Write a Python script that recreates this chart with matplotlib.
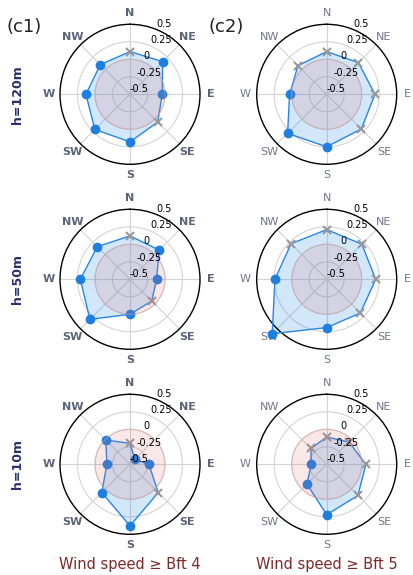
import numpy as np
import matplotlib
matplotlib.use('Agg')
import matplotlib.pyplot as plt
import matplotlib.transforms as mtransforms

# ---------------- data ----------------
directions = ['N', 'NE', 'E', 'SE', 'S', 'SW', 'W', 'NW']
radial_ticks = [-0.5, -0.25, 0, 0.25, 0.5]
radial_labels = ['-0.5', '-0.25', '0', '0.25', '0.5']
heights = ['h=120m', 'h=50m', 'h=10m']
panel_labels = ['(c1)', '(c2)']
titles = ['Wind speed \u2265 Bft 4', 'Wind speed \u2265 Bft 5']

c1_120 = [0.11, 0.16, -0.04, 0.06, 0.18, 0.21, 0.13, 0.10]
c1_120_sig = [0, 1, 1, 0, 1, 1, 1, 1]
c2_120 = [0.11, 0.14, 0.19, 0.20, 0.25, 0.29, 0.03, 0.08]
c2_120_sig = [0, 0, 0, 0, 1, 1, 1, 0]

c1_50 = [0.12, 0.09, -0.12, -0.06, 0.00, 0.31, 0.21, 0.16]
c1_50_sig = [0, 1, 1, 0, 1, 1, 1, 1]
c2_50 = [0.21, 0.21, 0.20, 0.18, 0.19, 0.60, 0.24, 0.22]
c2_50_sig = [0, 0, 0, 0, 1, 1, 1, 0]

c1_10 = [-0.20, -0.40, -0.23, 0.07, 0.38, 0.07, -0.17, -0.01]
c1_10_sig = [0, 1, 1, 0, 1, 1, 1, 1]
c2_10 = [-0.11, -0.05, 0.06, 0.13, 0.22, -0.10, -0.28, -0.18]
c2_10_sig = [0, 0, 0, 0, 1, 1, 1, 0]

grid_values = [[c1_120, c2_120], [c1_50, c2_50], [c1_10, c2_10]]
grid_sig = [[c1_120_sig, c2_120_sig], [c1_50_sig, c2_50_sig], [c1_10_sig, c2_10_sig]]

# ---------------- styling ----------------
W, H = 413, 575
fig = plt.figure(figsize=(W / 100, H / 100), dpi=100)

col_cx = [130, 326.7]
row_cy = [94.3, 279.3, 464.3]
R = 70  # px radius

line_c = '#2a86e4'
dot_c = '#1f7fe0'
fill_c = (0.12, 0.53, 0.90, 0.20)
pink_c = (0.88, 0.40, 0.40, 0.15)
grid_c = '#d4d4d4'
x_c = '#999999'

angles = np.deg2rad(np.arange(0, 360, 45))
theta_circle = np.linspace(0, 2 * np.pi, 361)

for ri in range(3):
    for ci in range(2):
        cx, cy = col_cx[ci], row_cy[ri]
        ax = fig.add_axes([(cx - R) / W, 1 - (cy + R) / H, 2 * R / W, 2 * R / H],
                          projection='polar')
        ax.set_theta_zero_location('N')
        ax.set_theta_direction(-1)
        ax.set_ylim(-0.5, 0.5)
        ax.set_yticks([-0.25, 0, 0.25])
        ax.set_yticklabels([])
        ax.set_xticks(angles)
        if ci == 0:
            ax.set_xticklabels(directions, fontsize=8, fontweight='bold', color='#5c6477')
        else:
            ax.set_xticklabels(directions, fontsize=8, color='#6f7787')
        ax.tick_params(axis='x', pad=-2.5)
        ax.grid(True, color=grid_c, lw=0.8)
        ax.spines['polar'].set_color('black')
        ax.spines['polar'].set_linewidth(1.0)
        ax.set_facecolor('white')

        vals = np.array(grid_values[ri][ci])
        sig = np.array(grid_sig[ri][ci]).astype(bool)
        th = np.append(angles, angles[0])
        rv = np.append(vals, vals[0])
        ax.fill(th, rv, color=fill_c, lw=0, zorder=2, clip_on=False)
        ax.plot(th, rv, color=line_c, lw=1.0, zorder=3, clip_on=False)
        ax.plot(angles[sig], vals[sig], 'o', color=dot_c, ms=6, zorder=4, clip_on=False)
        ax.plot(angles[~sig], vals[~sig], 'x', color=x_c, ms=5.5, mew=1.5, zorder=4, clip_on=False)
        # negative region
        ax.fill(theta_circle, np.zeros_like(theta_circle), facecolor=pink_c,
                edgecolor=(0.85, 0.65, 0.65, 0.6), lw=0.7, zorder=5)

        off = mtransforms.offset_copy(ax.transData, fig=fig, x=0, y=5.5, units='dots')
        for v, lab in zip(radial_ticks, radial_labels):
            ax.text(np.deg2rad(22.5), v, lab, transform=off, ha='left', va='center',
                    fontsize=7, color='black', zorder=6, clip_on=False)

# row labels
for ri in range(3):
    fig.text(18 / W, 1 - row_cy[ri] / H, heights[ri], rotation=90, ha='center', va='center',
             fontsize=9, fontweight='bold', color='#2b2f6b')

# panel labels
fig.text(7 / W, 1 - 27 / H, panel_labels[0], ha='left', va='center', fontsize=13, color='#222222')
fig.text(209 / W, 1 - 27 / H, panel_labels[1], ha='left', va='center', fontsize=13, color='#222222')

# bottom titles
for ci in range(2):
    fig.text(col_cx[ci] / W, 1 - 565 / H, titles[ci], ha='center', va='center',
             fontsize=10.5, color='#7d2a2a')

fig.savefig('out.png', dpi=100)
